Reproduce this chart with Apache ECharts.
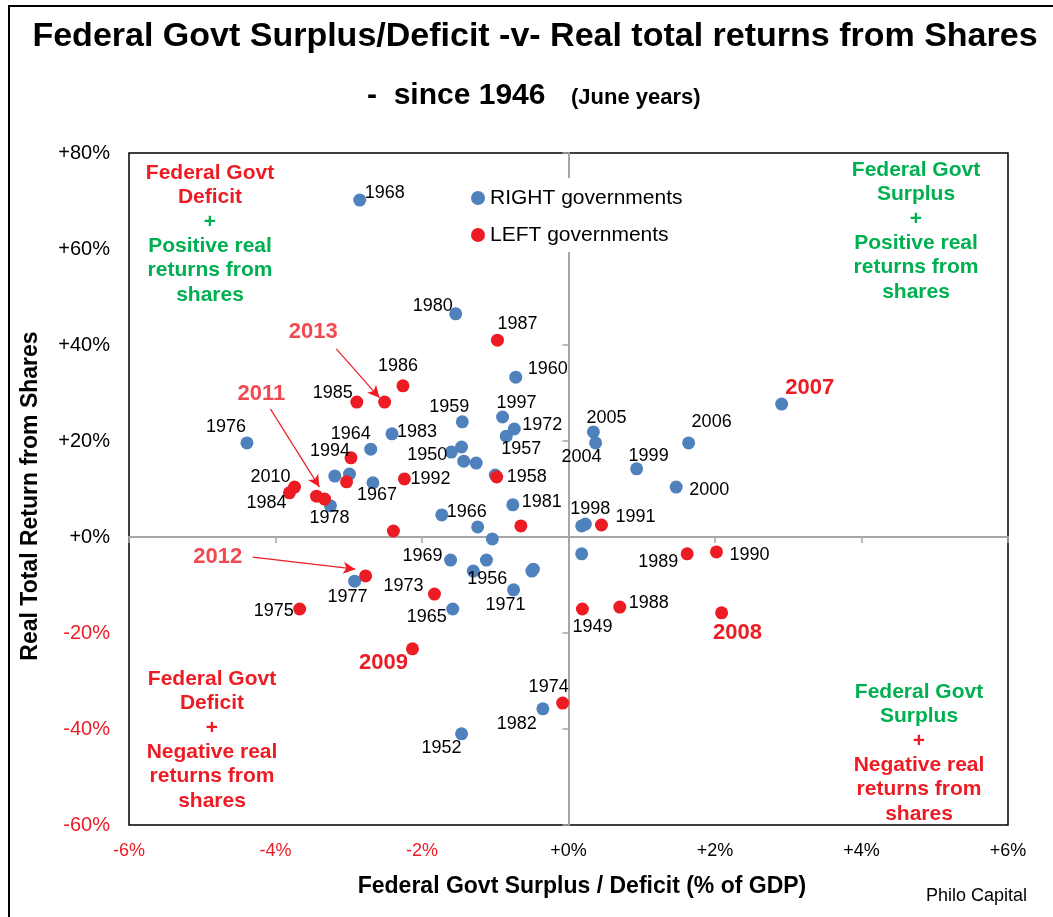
<!DOCTYPE html>
<html>
<head>
<meta charset="utf-8">
<title>Federal Govt Surplus/Deficit -v- Real total returns from Shares</title>
<script src="https://cdn.jsdelivr.net/npm/echarts@6/dist/echarts.min.js"></script>
<style>
  html, body { margin: 0; padding: 0; background: #fff; }
  #chart { width: 1053px; height: 917px; }
</style>
</head>
<body>
<div id="chart"></div>
<script>
// RIGHT governments: surplus/deficit (% of GDP), real total return (%), year ('' = no label)
const rightSurplus = [-2.85, -1.54, -0.72, -4.39, -2.70, -2.41, -1.60, -1.46, -1.43, -1.26,
  -1.45, -0.90, -0.74, -0.85, -1.00, -0.76, -1.73, -1.24, -1.04, -1.61,
  -1.12, -1.30, -0.50, -0.48, -0.75, -1.58, 0.18, 0.18, 0.23, 0.34,
  0.37, 0.93, 1.47, 1.64, 2.91, -3.19, -2.99, -2.67, -3.25, -2.92,
  -0.35, -1.46]
const rightReturn = [70.2, 46.5, 33.3, 19.6, 18.3, 21.5, 17.7, 18.75, 15.8, 15.4,
  24.0, 25.0, 22.5, 21.0, 12.9, 6.7, 4.6, 2.1, -0.4, -4.8,
  -4.8, -7.1, -7.1, -6.7, -11.0, -15.0, -3.5, 2.3, 2.7, 21.9,
  19.6, 14.2, 10.4, 19.6, 27.7, 12.7, 13.1, 11.3, 6.5, -9.2,
  -35.8, -41.0]
const rightYear = ['1968', '1980', '1960', '1976', '1964', '1983', '1950', '', '', '',
  '1959', '1997', '1972', '1957', '', '1981', '1966', '', '', '1969',
  '', '1956', '', '', '1971', '1965', '', '', '1998', '2005',
  '2004', '1999', '2000', '2006', '2007', '', '', '1967', '1978', '1977',
  '1982', '1952']

// LEFT governments
const leftSurplus = [-0.97, -2.26, -2.89, -2.51, -2.97, -3.03, -2.24, -0.98, -3.74, -3.81,
  -3.44, -3.33, -2.39, -0.65, 0.45, 1.62, 2.02, 0.19, 0.70, 2.09,
  -1.83, -2.77, -3.67, -2.13, -0.08]
const leftReturn = [41.0, 31.5, 28.1, 28.1, 16.5, 11.5, 12.1, 12.5, 10.4, 9.2,
  8.5, 7.9, 1.25, 2.3, 2.5, -3.5, -3.1, -15.0, -14.6, -15.8,
  -11.9, -8.1, -15.0, -23.3, -34.6]
const leftYear = ['1987', '1986', '1985', '', '1994', '', '1992', '1958', '2010', '1984',
  '', '', '', '', '1991', '1989', '1990', '1949', '1988', '2008',
  '1973', '', '1975', '2009', '1974']

// arrowed call-outs (data units)
const noteYear = ['2013', '2011', '2012']
const arrowFrom = [[-3.17, 39.2], [-4.07, 26.7], [-4.31, -4.2]]
const arrowTo = [[-2.58, 29.0], [-3.40, 10.4], [-2.91, -6.7]]

const RED = '#ED1C24'
const GREEN = '#00B050'
const BLUE = '#4F81BD'
const FONT = 'Liberation Sans, Arial, sans-serif'

// label placement (px from dot centre)
const labelOffset = {
  '1968': [25, -7], '1980': [-23, -8], '1960': [32, -8], '1976': [-21, -16], '1964': [-20, -15],
  '1983': [25, -2], '1950': [-24, 3], '1959': [-13, -15], '1997': [14, -14], '1972': [28, -4],
  '1957': [15, 13], '1981': [29, -3], '1966': [25, -3], '1969': [-28, -4], '1956': [14, 8],
  '1971': [-8, 15], '1965': [-26, 8], '1967': [4, 12], '1978': [-1, 12], '1977': [-7, 16],
  '1998': [5, -15], '2005': [13, -14], '2004': [-14, 14], '1999': [12, -13], '2000': [33, 3],
  '2006': [23, -21], '2007': [28, -16], '1982': [-26, 15], '1952': [-20, 14],
  '1987': [20, -16], '1986': [-5, -20], '1985': [-24, -9], '1994': [-21, -7], '1992': [26, 0],
  '1958': [30, 0], '2010': [-24, -10], '1984': [-23, 10], '1991': [34, -8], '1989': [-29, 8],
  '1990': [33, 3], '1949': [10, 18], '1988': [29, -4], '2008': [16, 20], '1973': [-31, -8],
  '1975': [-26, 2], '2009': [-29, 14], '1974': [-14, -16]
}
const noteOffset = [[-23, -17], [-9, -15], [-35, 0]]
const boldYears = ['2007', '2008', '2009']

const buildPoints = (xs, ys, years) => xs.map((x, i) => {
  const yr = years[i]
  const item = { value: [x, ys[i]] }
  if (yr) {
    const hot = boldYears.includes(yr)
    item.label = {
      show: true,
      formatter: yr,
      offset: labelOffset[yr] || [0, -16],
      color: hot ? RED : '#000',
      fontSize: hot ? 22 : 18,
      fontWeight: hot ? 'bold' : 'normal'
    }
  }
  return item
})

const pctLabel = v => (v >= 0 ? '+' : '') + v + '%'
const pctColor = v => (Number(v) < 0 ? RED : '#000')

// quadrant captions
const quadrants = [
  { x: 210, y: 173, lines: [['Federal Govt', RED], ['Deficit', RED], ['+', GREEN], ['Positive real', GREEN], ['returns from', GREEN], ['shares', GREEN]] },
  { x: 916, y: 170, lines: [['Federal Govt', GREEN], ['Surplus', GREEN], ['+', GREEN], ['Positive real', GREEN], ['returns from', GREEN], ['shares', GREEN]] },
  { x: 212, y: 679, lines: [['Federal Govt', RED], ['Deficit', RED], ['+', RED], ['Negative real', RED], ['returns from', RED], ['shares', RED]] },
  { x: 919, y: 692, lines: [['Federal Govt', GREEN], ['Surplus', GREEN], ['+', RED], ['Negative real', RED], ['returns from', RED], ['shares', RED]] }
]

const graphics = [
  { type: 'rect', silent: true, shape: { x: 9, y: 6, width: 1200, height: 1000 }, style: { fill: 'none', stroke: '#000', lineWidth: 2 } },
  { type: 'text', x: 535, y: 37, style: { text: 'Federal Govt Surplus/Deficit -v- Real total returns from Shares', align: 'center', verticalAlign: 'middle', fontSize: 34, fontWeight: 'bold', fontFamily: FONT, fill: '#000' } },
  { type: 'text', x: 367, y: 96, style: { text: '-  since 1946', align: 'left', verticalAlign: 'middle', fontSize: 30, fontWeight: 'bold', fontFamily: FONT, fill: '#000' } },
  { type: 'text', x: 571, y: 98, style: { text: '(June years)', align: 'left', verticalAlign: 'middle', fontSize: 22, fontWeight: 'bold', fontFamily: FONT, fill: '#000' } },
  { type: 'text', x: 1027, y: 896, style: { text: 'Philo Capital', align: 'right', verticalAlign: 'middle', fontSize: 18, fontFamily: FONT, fill: '#000' } }
]
quadrants.forEach(q => {
  q.lines.forEach(([txt, col], i) => {
    graphics.push({ type: 'text', x: q.x, y: q.y + i * 24.4, style: { text: txt, align: 'center', verticalAlign: 'middle', fontSize: 21, fontWeight: 'bold', fontFamily: FONT, fill: col } })
  })
})

const chart = echarts.init(document.getElementById('chart'))

const option = {
  animation: false,
  textStyle: { fontFamily: FONT },
  grid: { left: 129, right: 45, top: 153, bottom: 92, show: true, borderColor: '#000', borderWidth: 1.5, backgroundColor: 'transparent' },
  legend: {
    data: ['RIGHT governments', 'LEFT governments'],
    orient: 'vertical',
    left: 465,
    top: 178,
    icon: 'circle',
    itemWidth: 14,
    itemHeight: 14,
    itemGap: 15,
    padding: [9, 6, 6, 6],
    backgroundColor: '#fff',
    textStyle: { fontSize: 21, color: '#000', lineHeight: 22 },
    selectedMode: false
  },
  xAxis: [
    {
      type: 'value', min: -6, max: 6, interval: 2, position: 'bottom',
      axisLine: { show: false, onZero: false },
      axisTick: { show: false },
      splitLine: { show: false },
      axisLabel: { fontSize: 18, margin: 17, formatter: pctLabel, color: pctColor },
      name: 'Federal Govt Surplus / Deficit (% of GDP)',
      nameLocation: 'middle',
      nameGap: 50,
      nameTextStyle: { fontSize: 23, fontWeight: 'bold', color: '#000', padding: [0, 0, 0, 27] }
    },
    {
      type: 'value', min: -6, max: 6, interval: 2, position: 'bottom',
      axisLine: { show: true, onZero: true, onZeroAxisIndex: 0, lineStyle: { color: '#A6A6A6', width: 2 } },
      axisTick: { show: true, length: 6, lineStyle: { color: '#A6A6A6', width: 1.5 } },
      axisLabel: { show: false },
      splitLine: { show: false }
    }
  ],
  yAxis: [
    {
      type: 'value', min: -60, max: 80, interval: 20, position: 'left',
      axisLine: { show: false, onZero: false },
      axisTick: { show: false },
      splitLine: { show: false },
      axisLabel: { fontSize: 20, margin: 19, formatter: pctLabel, color: pctColor },
      name: 'Real Total Return from Shares',
      nameLocation: 'middle',
      nameGap: 87,
      nameTextStyle: { fontSize: 23, fontWeight: 'bold', color: '#000', padding: [0, 14, 0, 0] }
    },
    {
      type: 'value', min: -60, max: 80, interval: 20, position: 'left',
      axisLine: { show: true, onZero: true, onZeroAxisIndex: 0, lineStyle: { color: '#A6A6A6', width: 2 } },
      axisTick: { show: true, length: 6, lineStyle: { color: '#A6A6A6', width: 1.5 } },
      axisLabel: { show: false },
      splitLine: { show: false }
    }
  ],
  series: [
    {
      name: 'RIGHT governments',
      type: 'scatter',
      symbolSize: 13,
      itemStyle: { color: BLUE, opacity: 1 },
      label: { show: false, position: 'inside', fontFamily: FONT },
      emphasis: { disabled: true },
      data: buildPoints(rightSurplus, rightReturn, rightYear),
      z: 3
    },
    {
      name: 'LEFT governments',
      type: 'scatter',
      symbolSize: 13,
      itemStyle: { color: RED, opacity: 1 },
      label: { show: false, position: 'inside', fontFamily: FONT },
      emphasis: { disabled: true },
      data: buildPoints(leftSurplus, leftReturn, leftYear),
      z: 4
    },
    {
      name: 'notes',
      type: 'scatter',
      symbolSize: 0,
      silent: true,
      data: arrowFrom.map((p, i) => ({
        value: p,
        label: { show: true, position: 'inside', formatter: noteYear[i], offset: noteOffset[i], color: RED, fontSize: 22, fontWeight: 'bold' }
      })),
      markLine: {
        silent: true,
        symbol: ['none', 'arrow'],
        symbolSize: [9, 12],
        label: { show: false },
        lineStyle: { color: RED, width: 1.2, type: 'solid' },
        data: arrowFrom.map((p, i) => [{ coord: p }, { coord: arrowTo[i] }])
      },
      z: 5
    }
  ],
  graphic: graphics
}

chart.setOption(option)
</script>
</body>
</html>
